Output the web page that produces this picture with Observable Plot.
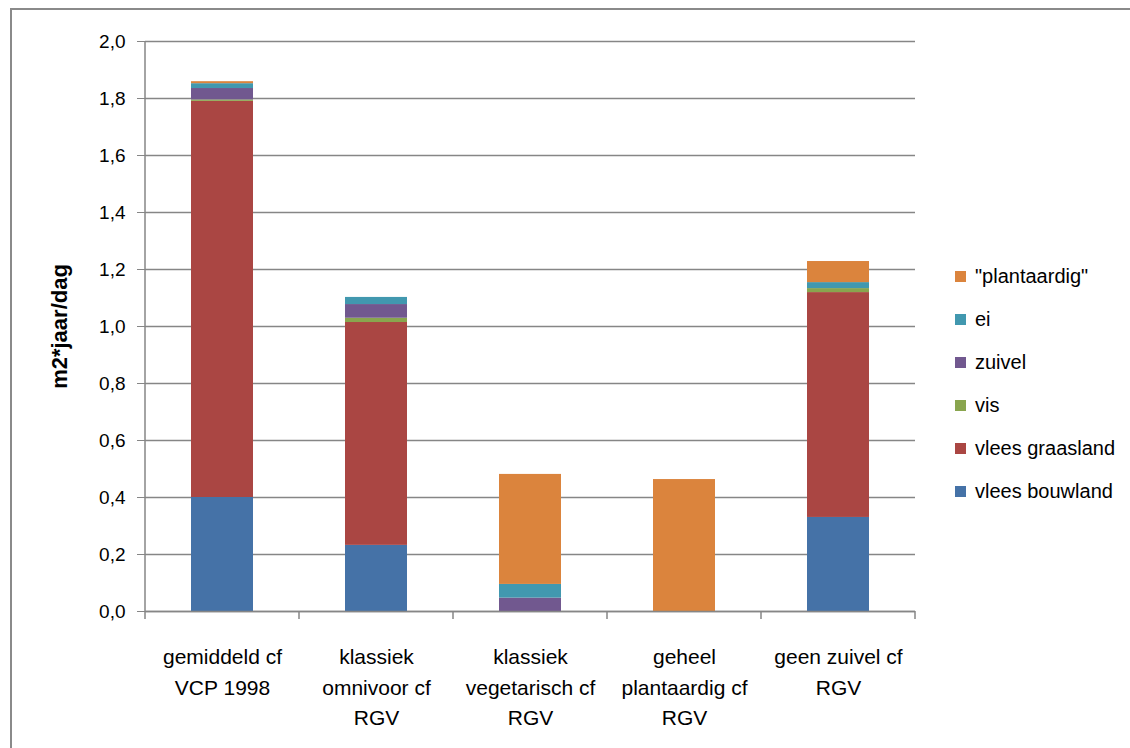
<!DOCTYPE html>
<html>
<head>
<meta charset="utf-8">
<script src="https://cdn.jsdelivr.net/npm/d3@7"></script>
<script src="https://cdn.jsdelivr.net/npm/@observablehq/plot@0.6"></script>
<style>
  html, body { margin: 0; padding: 0; background: #fff; }
  #wrap { position: relative; width: 1130px; height: 748px; overflow: hidden; font-family: "Liberation Sans", sans-serif; }
  #frame { position: absolute; left: 10px; top: 8px; width: 1200px; height: 800px; border: 2px solid #8a8a8a; box-sizing: border-box; }
  #chart { position: absolute; left: 0; top: 0; }
  #legend { position: absolute; left: 955px; top: 255px; font-size: 20px; color: #000; }
  .item { display: flex; align-items: center; height: 43px; line-height: 43px; }
  .sw { width: 11px; height: 11px; margin-right: 9px; }
</style>
</head>
<body>
<div id="wrap">
  <div id="frame"></div>
  <div id="chart"></div>
  <div id="legend"></div>
</div>
<script>
const categories = [
  "gemiddeld cf\nVCP 1998",
  "klassiek\nomnivoor cf\nRGV",
  "klassiek\nvegetarisch cf\nRGV",
  "geheel\nplantaardig cf\nRGV",
  "geen zuivel cf\nRGV"
];
const seriesNames = ["vlees bouwland", "vlees graasland", "vis", "zuivel", "ei", "\"plantaardig\""];
const seriesColors = ["#4572A7", "#AA4643", "#89A54E", "#71588F", "#4198AF", "#DB843D"];

const vleesBouwland  = [0.400, 0.232, 0,     0,     0.330];
const vleesGraasland = [1.390, 0.782, 0,     0,     0.789];
const vis            = [0.005, 0.015, 0,     0,     0.014];
const zuivel         = [0.040, 0.048, 0.047, 0,     0];
const ei             = [0.017, 0.025, 0.048, 0,     0.021];
const plantaardig    = [0.007, 0,     0.386, 0.463, 0.074];

const yTicks = [0, 0.2, 0.4, 0.6, 0.8, 1.0, 1.2, 1.4, 1.6, 1.8, 2.0];

const seriesValues = [vleesBouwland, vleesGraasland, vis, zuivel, ei, plantaardig];
const data = [];
seriesNames.forEach((s, i) => {
  categories.forEach((c, j) => {
    data.push({category: c, series: s, value: seriesValues[i][j]});
  });
});

const fmt = d => d.toFixed(1).replace(".", ",");

const plot = Plot.plot({
  width: 1130,
  height: 748,
  marginLeft: 145,
  marginRight: 215,
  marginTop: 41,
  marginBottom: 137,
  style: {fontFamily: "\"Liberation Sans\", sans-serif", fontSize: "19px", color: "#000", background: "transparent"},
  x: {domain: categories, paddingInner: 0.6, paddingOuter: 0.3, label: null},
  y: {domain: [0, 2], ticks: yTicks, label: null},
  color: {domain: seriesNames, range: seriesColors},
  marks: [
    Plot.gridY(yTicks, {stroke: "#868686", strokeOpacity: 1, strokeWidth: 1.5}),
    Plot.barY(data, {x: "category", y: "value", fill: "series", order: seriesNames}),
    Plot.axisY(yTicks, {tickFormat: fmt, tickSize: 8, tickPadding: 12, stroke: "#868686", strokeOpacity: 1, fontSize: 19, label: null}),
    Plot.ruleY([0], {stroke: "#868686", strokeWidth: 1.5}),
    Plot.axisX({tickSize: 0, tickPadding: 31, lineHeight: 1.45, fontSize: 21, label: null}),
    Plot.text(["m2*jaar/dag"], {frameAnchor: "left", dx: -86, rotate: -90, textAnchor: "middle", fontWeight: "bold", fontSize: 22})
  ]
});
document.getElementById("chart").appendChild(plot);

// y axis line and category boundary ticks on the x axis
const svg = d3.select(plot);
const xs = plot.scale("x");
const ys = plot.scale("y");
const step = xs.step;
const left = xs.range[0], y0 = ys.apply(0), yTop = ys.apply(2);
svg.append("line").attr("x1", left).attr("x2", left).attr("y1", yTop).attr("y2", y0)
  .attr("stroke", "#868686").attr("stroke-width", 1.5);
for (let k = 0; k <= categories.length; k++) {
  const x = left + k * step;
  svg.append("line").attr("x1", x).attr("x2", x).attr("y1", y0).attr("y2", y0 + 8)
    .attr("stroke", "#868686").attr("stroke-width", 1.5);
}

const legend = document.getElementById("legend");
for (let i = seriesNames.length - 1; i >= 0; i--) {
  const item = document.createElement("div");
  item.className = "item";
  item.innerHTML = `<div class="sw" style="background:${seriesColors[i]}"></div><span>${seriesNames[i].replace(/"/g, "&quot;")}</span>`;
  legend.appendChild(item);
}
</script>
</body>
</html>
